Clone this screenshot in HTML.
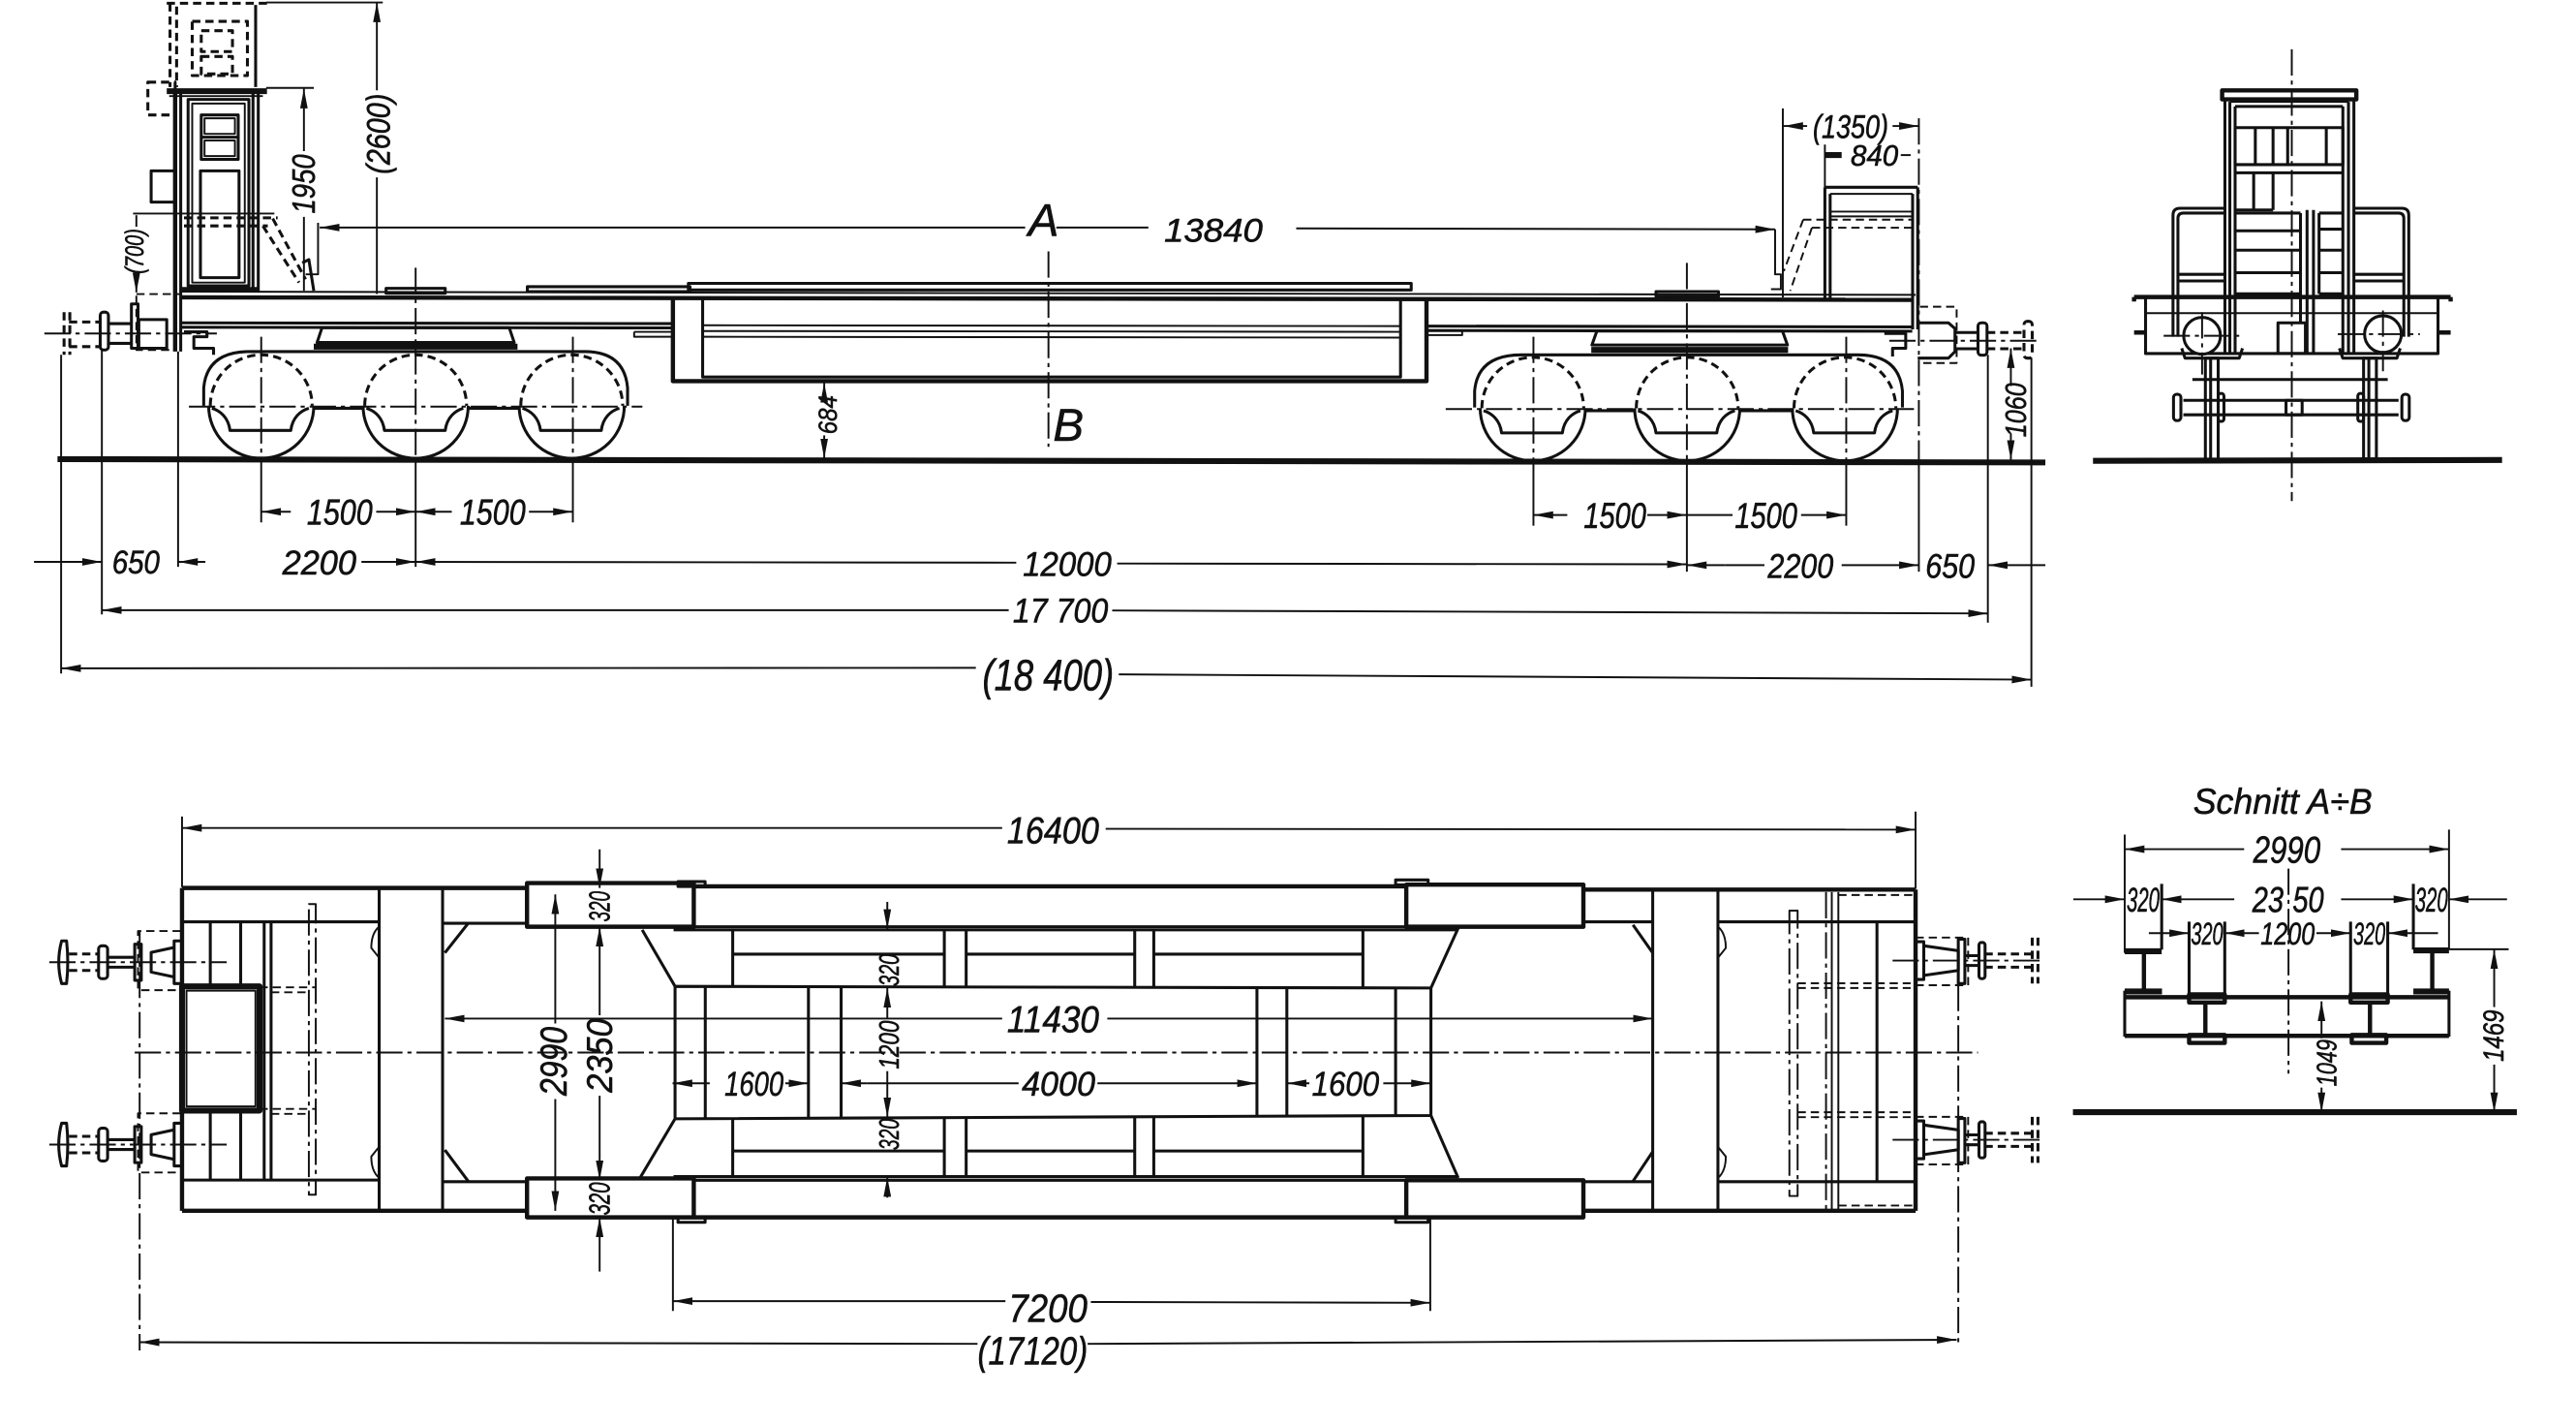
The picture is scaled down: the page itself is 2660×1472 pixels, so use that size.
<!DOCTYPE html>
<html><head><meta charset="utf-8">
<style>
html,body{margin:0;padding:0;background:#fff;}
svg{display:block}
.s{fill:none;stroke:#111;stroke-width:1.8;stroke-linejoin:round}
.n{stroke-width:1.15}
.w{stroke-width:2.6}
.g{stroke-width:3.6}
.d{stroke-dasharray:5 3}
.c{stroke-dasharray:16 3 2.5 3}
text{font-family:"Liberation Sans",sans-serif;font-style:italic;fill:#111;stroke:#111;stroke-width:0.35;text-anchor:middle}
</style></head><body>
<svg width="2660" height="1472" viewBox="0 0 1568 868" preserveAspectRatio="none" xmlns="http://www.w3.org/2000/svg">
<defs>
<marker id="a" viewBox="0 0 12 5" refX="12" refY="2.5" markerWidth="12" markerHeight="5" markerUnits="userSpaceOnUse" orient="auto"><path d="M0,0.2 L12,2.5 L0,4.8 Z" fill="#111"/></marker>
</defs>
<rect width="1568" height="868" fill="#fff"/>
<g class="s">

<!-- ================= SIDE VIEW ================= -->
<path class="g" d="M35,279.5 L1245,281.5"/>

<!-- frame -->
<path class="n" d="M110,177.5 L1166,179.5"/>
<path class="w" d="M110,181 L1164,182.5"/>
<path d="M110,196.5 L410,197 M110,199.2 L410,199.6"/>
<path d="M868,198.5 L1164,199 M868,201.2 L1164,201.6"/>
<path class="n" d="M428,198 L852,198.5 M428,201.5 L852,202 M428,205 L852,205.5"/>
<path class="n" d="M386,202 L410,202 M386,202 L386,205 L410,205 M868,204 L890,204 L890,201"/>
<rect x="235" y="175.5" width="36" height="3"/>
<rect x="321" y="174.5" width="99" height="3"/>
<rect x="419" y="172.5" width="440" height="4"/>
<rect x="1008" y="177.5" width="38" height="3"/>
<!-- well -->
<path class="w" d="M409.6,182.5 L409.6,232 L868.3,232 L868.3,182.5"/>
<path d="M427.7,182.5 L427.7,229.5 L852.5,229.5 L852.5,182.5"/>

<!-- left cab -->
<path class="w" d="M106.6,57 L106.6,214"/>
<path d="M110,57 L110,214"/>
<path d="M154,57 L154,178 M157.2,57 L157.2,178"/>
<path class="g" d="M101.5,55.5 L162.5,55.5"/>
<path class="n" d="M103,58.5 L160,58.5"/>
<rect x="114.5" y="60.5" width="37" height="113.5"/>
<rect class="n" x="117" y="63" width="32" height="109"/>
<rect x="122.5" y="70" width="22.5" height="27"/>
<path d="M122.5,83.5 L145,83.5"/>
<rect class="n" x="124.5" y="72" width="18.5" height="9.5"/>
<rect class="n" x="124.5" y="85.5" width="18.5" height="9.5"/>
<rect x="122" y="104" width="23.5" height="65"/>
<path class="w" d="M110,176 L157,176"/>
<!-- upper dashed cab -->
<path class="d" d="M101.5,2 L164,2"/>
<path class="d" d="M103.5,2 L103.5,53 M107.5,4 L107.5,53"/>
<path d="M155.6,3 L155.6,53"/>
<path class="n" d="M162,1.5 L233,1.5"/>
<rect class="d" x="117" y="13" width="33.6" height="33"/>
<rect class="d" x="122.5" y="18.7" width="19" height="12.7"/>
<rect class="d" x="122.5" y="34.4" width="19" height="10.6"/>
<rect class="d" x="90" y="50" width="16.6" height="20"/>
<rect x="92" y="104" width="14.6" height="19"/>
<!-- handrail dashed -->
<path class="d" d="M112,132.6 L169,132.6 M112,137.5 L163,137.5 M166,133 L186,170 M160,137.5 L182,172"/>
<path d="M184,160 L188,158 L191,177"/>
<!-- (700) -->
<path class="n" d="M81,130 L167,130"/>
<path class="n" d="M83,131 L83,138"/>
<path class="n" d="M83,168 L83,178" marker-end="url(#a)"/>
<path class="d n" d="M83,179 L110,179"/>
<text transform="translate(81.5,153) rotate(-90)" y="5.8" font-size="16" textLength="27.5" lengthAdjust="spacingAndGlyphs">(700)</text>
<!-- 1950 -->
<path class="n" d="M162,53.5 L191,53.5"/>
<path class="n" d="M185,92 L185,54" marker-end="url(#a)"/>
<path class="n" d="M185,132 L185,177"/>
<text transform="translate(184.5,112) rotate(-90)" y="7" font-size="19.5" textLength="36" lengthAdjust="spacingAndGlyphs">1950</text>
<!-- (2600) -->
<path class="n" d="M229.4,55 L229.4,1.5" marker-end="url(#a)"/>
<path class="n" d="M229.4,108 L229.4,179"/>
<text transform="translate(230,81.5) rotate(-90)" y="7.2" font-size="20" textLength="49" lengthAdjust="spacingAndGlyphs">(2600)</text>

<!-- 13840 -->
<path class="n" d="M624,138.5 L194.6,138.5" marker-end="url(#a)"/>
<path class="n" d="M643,138.5 L699,138.5"/>
<path class="n" d="M789,139 L1080.5,139.6" marker-end="url(#a)"/>
<path class="n" d="M193.6,135.6 L193.6,167 L186,167"/>
<path class="n" d="M1080.5,139.6 L1080.5,167 L1084,167 L1084,176 L1078,176"/>
<text x="738.6" y="147.2" font-size="20" textLength="60" lengthAdjust="spacingAndGlyphs">13840</text>
<text x="635.2" y="143.6" font-size="28">A</text>
<text x="650.3" y="268.4" font-size="28">B</text>
<path class="c n" d="M638.2,153 L638.2,272"/>

<!-- 684 -->
<path class="n" d="M501.7,241 L501.7,233" marker-end="url(#a)"/>
<path class="n" d="M501.7,265 L501.7,279" marker-end="url(#a)"/>
<text transform="translate(503.6,252.5) rotate(-90)" y="5.8" font-size="16" textLength="23.6" lengthAdjust="spacingAndGlyphs">684</text>

<!-- left bogie -->
<path d="M196,199.5 L310,199.5 L313,208.5 L193,208.5 Z"/>
<path class="g" d="M191,211 L315,211"/>
<path d="M124,247 L124,236 Q126,214 152,214 L356,214 Q380,214 382,236 L382,247"/>
<path d="M191,248.5 L221,248.5 M285,248.5 L316,248.5"/>
<path d="M127,247 A32,32 0 0 0 191,247"/>
<path class="d" d="M128,247 A31,31 0 0 1 190,247"/>
<path d="M129,248.5 C134,250 139,254 140,262 L177,262 C178,254 183,250 188,248.5"/>
<path d="M221,247 A32,32 0 0 0 285,247"/>
<path class="d" d="M222,247 A31,31 0 0 1 284,247"/>
<path d="M223,248.5 C228,250 233,254 234,262 L271,262 C272,254 277,250 282,248.5"/>
<path d="M316,247 A32,32 0 0 0 380,247"/>
<path class="d" d="M317,247 A31,31 0 0 1 379,247"/>
<path d="M318,248.5 C323,250 328,254 329,262 L366,262 C367,254 372,250 377,248.5"/>
<path class="c n" d="M115,247.5 L391,247.5"/>
<path class="c n" d="M159,205 L159,279 M253,163 L253,279 M348.7,205 L348.7,279"/>

<!-- right bogie -->
<path d="M972,201.5 L1085,201.5 L1088,210 L969,210 Z"/>
<path class="g" d="M968.6,213 L1088.4,213"/>
<path d="M897.6,248 L897.6,238 Q899.5,216 926,216 L1131,216 Q1156,216 1158,238 L1158,248"/>
<path d="M965,250 L995,250 M1059,250 L1091,250"/>
<path d="M901,248.5 A32,32 0 0 0 965,248.5"/>
<path class="d" d="M902,248.5 A31,31 0 0 1 964,248.5"/>
<path d="M903,250 C908,251.5 913,255.5 914,263.5 L951,263.5 C952,255.5 957,251.5 962,250"/>
<path d="M995,248.5 A32,32 0 0 0 1059,248.5"/>
<path class="d" d="M996,248.5 A31,31 0 0 1 1058,248.5"/>
<path d="M997,250 C1002,251.5 1007,255.5 1008,263.5 L1045,263.5 C1046,255.5 1051,251.5 1056,250"/>
<path d="M1091,248.5 A32,32 0 0 0 1155,248.5"/>
<path class="d" d="M1092,248.5 A31,31 0 0 1 1154,248.5"/>
<path d="M1093,250 C1098,251.5 1103,255.5 1104,263.5 L1141,263.5 C1142,255.5 1147,251.5 1152,250"/>
<path class="c n" d="M880,249 L1165,249"/>
<path class="c n" d="M933.4,205 L933.4,280 M1026.8,160 L1026.8,280 M1123.8,205 L1123.8,280"/>

<!-- left buffer (side) -->
<path class="d n" d="M83,180 L83,213 L106,213"/>
<rect x="80" y="185" width="4" height="27"/>
<rect x="84.5" y="194.5" width="17" height="17.5"/>
<path d="M66,197 L80,197 M66,209 L80,209"/>
<path class="d" d="M42,196 L61,196 M42,211 L61,211"/>
<rect x="61" y="190" width="5" height="23" rx="2"/>
<path class="d" d="M39,190 L39,216 M42.5,190 L42.5,216"/>
<path class="c n" d="M27,203 L132,203"/>
<path d="M112,202 L126,202 L126,205 L118,205 L118,212 L130,212 L130,216"/>

<!-- right cab -->
<path class="n" d="M1085.2,66 L1085.2,181"/>
<path class="c n" d="M1168,72 L1168,281"/>
<path class="n" d="M1100,76.7 L1085.5,76.7" marker-end="url(#a)"/>
<path class="n" d="M1152,76.7 L1168,76.7" marker-end="url(#a)"/>
<text x="1126.5" y="83.9" font-size="20" textLength="46" lengthAdjust="spacingAndGlyphs">(1350)</text>
<path class="g" d="M1111,94.4 L1121,94.4"/>
<path class="n" d="M1157,94.4 L1163,94.4"/>
<text x="1141" y="100.9" font-size="18" textLength="29" lengthAdjust="spacingAndGlyphs">840</text>
<path class="n" d="M1110.8,88 L1110.8,114"/>
<path d="M1110.8,114 L1167.3,114"/>
<path class="n" d="M1114,118 L1164.2,118"/>
<path d="M1110.8,114 L1110.8,181.8 M1114,118 L1114,181.8"/>
<path d="M1164.2,118 L1164.2,200.5 M1167.3,114 L1167.3,200.5"/>
<path class="n" d="M1114,128.8 L1164.2,128.8 M1114,131.7 L1164.2,131.7"/>
<path class="d n" d="M1097.6,133.7 L1164,133.7 M1102.9,138.6 L1164,138.6"/>
<path class="d n" d="M1097.6,133.7 L1085.8,165 M1102.9,138.6 L1089.7,177"/>

<!-- right buffer (side) -->
<path class="d n" d="M1168.6,186.7 L1191,186.7 L1191,221 L1168.6,221"/>
<path d="M1167.3,196.5 L1186,196.5 L1190,200 L1190,214 L1186,218 L1167.3,218"/>
<path d="M1190,202.4 L1204,202.4 M1190,212.3 L1204,212.3"/>
<rect x="1204" y="196.5" width="5.5" height="19.7" rx="2"/>
<path class="d" d="M1209.5,202.4 L1232,202.4 M1209.5,212.3 L1232,212.3"/>
<rect class="d" x="1232" y="195.6" width="5" height="22.4" rx="2"/>
<path class="c n" d="M1150,207.4 L1242,207.4"/>
<path d="M1147,203 L1160,203 L1160,212 L1152,212 L1152,217"/>
<!-- 1060 -->
<path class="n" d="M1224,235 L1224,212" marker-end="url(#a)"/>
<path class="n" d="M1224,264 L1224,280" marker-end="url(#a)"/>
<text transform="translate(1226.6,249.6) rotate(-90)" y="6.5" font-size="18" textLength="33" lengthAdjust="spacingAndGlyphs">1060</text>

<!-- extension lines (side) -->
<path class="n" d="M37.2,216 L37.2,410 M62,213 L62,374 M108.4,214 L108.4,345"/>
<path class="n" d="M159,279 L159,318 M253,279 L253,345 M348.7,279 L348.7,318"/>
<path class="n" d="M933.4,281 L933.4,320 M1026.8,281 L1026.8,348 M1123.8,281 L1123.8,320"/>
<path class="n" d="M1168,281 L1168,348 M1210,216 L1210,379 M1236.5,218 L1236.5,418"/>

<!-- dimension rows (side) -->
<path class="n" d="M177,311.5 L159,311.5" marker-end="url(#a)"/>
<text x="206.8" y="319.4" font-size="22" textLength="40" lengthAdjust="spacingAndGlyphs">1500</text>
<path class="n" d="M229,311.5 L253,311.5" marker-end="url(#a)"/>
<path class="n" d="M275,311.5 L253,311.5" marker-end="url(#a)"/>
<text x="299.9" y="319.4" font-size="22" textLength="40" lengthAdjust="spacingAndGlyphs">1500</text>
<path class="n" d="M322,311.5 L348.7,311.5" marker-end="url(#a)"/>

<path class="n" d="M954,313.5 L933.4,313.5" marker-end="url(#a)"/>
<text x="983" y="321.4" font-size="22" textLength="38" lengthAdjust="spacingAndGlyphs">1500</text>
<path class="n" d="M1002.7,313.5 L1026.8,313.5" marker-end="url(#a)"/>
<path class="n" d="M1026.8,313.5 L1054.6,313.5"/>
<text x="1075" y="321.4" font-size="22" textLength="38" lengthAdjust="spacingAndGlyphs">1500</text>
<path class="n" d="M1096.3,313.5 L1123.8,313.5" marker-end="url(#a)"/>

<path class="n" d="M20.7,342 L62,342" marker-end="url(#a)"/>
<text x="82.7" y="349.2" font-size="20" textLength="29" lengthAdjust="spacingAndGlyphs">650</text>
<path class="n" d="M125,342 L108.4,342" marker-end="url(#a)"/>
<text x="194.4" y="349.6" font-size="21" textLength="45" lengthAdjust="spacingAndGlyphs">2200</text>
<path class="n" d="M220,342 L253,342" marker-end="url(#a)"/>
<path class="n" d="M618.6,342.5 L253,342" marker-end="url(#a)"/>
<text x="649.6" y="350.6" font-size="21" textLength="54" lengthAdjust="spacingAndGlyphs">12000</text>
<path class="n" d="M680,343 L1026.8,343.5" marker-end="url(#a)"/>
<path class="n" d="M1050,344 L1026.8,344" marker-end="url(#a)"/>
<path class="n" d="M1050,344 L1074,344"/>
<text x="1096" y="351.6" font-size="21" textLength="40" lengthAdjust="spacingAndGlyphs">2200</text>
<path class="n" d="M1121,344 L1168,344" marker-end="url(#a)"/>
<text x="1187" y="351.6" font-size="21" textLength="30" lengthAdjust="spacingAndGlyphs">650</text>
<path class="n" d="M1245,344 L1210,344" marker-end="url(#a)"/>

<path class="n" d="M614,371.4 L62,371.4" marker-end="url(#a)"/>
<text x="645.5" y="379" font-size="21" textLength="58" lengthAdjust="spacingAndGlyphs">17 700</text>
<path class="n" d="M677,371.6 L1210,373.4" marker-end="url(#a)"/>

<path class="n" d="M594,406.5 L37.2,406.8" marker-end="url(#a)"/>
<text x="638" y="420" font-size="27" textLength="80" lengthAdjust="spacingAndGlyphs">(18 400)</text>
<path class="n" d="M681,410.5 L1236.5,413.7" marker-end="url(#a)"/>

<!-- ================= END VIEW ================= -->
<path class="g" d="M1274,280.5 L1523,280"/>
<path class="c n" d="M1395,30 L1395,305"/>
<path class="w" d="M1352.6,55 L1434.3,55 L1434.3,60.5 L1352.6,60.5 Z"/>
<path d="M1354.3,60.5 L1354.3,215 M1357.3,62 L1357.3,215 M1360.5,64.8 L1360.5,215"/>
<path d="M1426.1,64.8 L1426.1,215 M1429.5,62 L1429.5,215 M1432.8,60.5 L1432.8,215"/>
<path class="n" d="M1357.3,62 L1429.5,62"/>
<path d="M1360.5,64.8 L1426.1,64.8"/>
<rect x="1360.5" y="77.7" width="65.6" height="22.5"/>
<path d="M1372.8,77.7 L1372.8,100.2 M1383.6,77.7 L1383.6,100.2 M1392.5,77.7 L1392.5,100.2 M1416,77.7 L1416,100.2"/>
<path d="M1360.5,105.2 L1426.1,105.2 M1360.5,127.8 L1383.6,127.8 M1371.8,105.2 L1371.8,127.8 M1383.6,105.2 L1383.6,127.8"/>
<path d="M1360.5,129.7 L1400.3,129.7 M1360.5,140.5 L1400.3,140.5 M1360.5,152.3 L1400.3,152.3 M1360.5,166 L1400.3,166 M1360.5,178.8 L1400.3,178.8"/>
<path d="M1411.6,129.7 L1426.1,129.7 M1411.6,139.5 L1426.1,139.5 M1411.6,152.3 L1426.1,152.3 M1411.6,166 L1426.1,166 M1411.6,178.8 L1426.1,178.8"/>
<path d="M1400.3,129.7 L1400.3,196.5 M1411.6,129.7 L1411.6,178.8"/>
<path d="M1404.3,127.8 L1404.3,215 M1408.2,127.8 L1408.2,215"/>
<path d="M1322.7,205 L1322.7,131 Q1322.7,126.8 1327,126.8 L1354.3,126.8"/>
<path d="M1325.7,205 L1325.7,133 Q1325.7,129.7 1329,129.7 L1354.3,129.7"/>
<path d="M1466.2,205 L1466.2,131 Q1466.2,126.8 1462,126.8 L1432.8,126.8"/>
<path d="M1463.2,205 L1463.2,133 Q1463.2,129.7 1460,129.7 L1432.8,129.7"/>
<path d="M1325.7,167 L1354.3,167 M1325.7,171 L1354.3,171 M1432.8,167 L1463.2,167 M1432.8,171 L1463.2,171"/>
<path class="w" d="M1299,180.8 L1491.7,180.8"/>
<path d="M1306,180.8 L1306,215.2 L1484,215.2 L1484,180.8"/>
<path class="n" d="M1306,190.6 L1484,190.6"/>
<path class="w" d="M1299,202.4 L1306,202.4 M1484,202.4 L1491.7,202.4 M1299,180.8 L1299,183.5 M1491.7,180.8 L1491.7,183.5"/>
<circle cx="1340.4" cy="204.4" r="11.2" fill="#fff"/>
<circle cx="1450.5" cy="203.4" r="11.2" fill="#fff"/>
<path class="c n" d="M1317,204.4 L1364,204.4 M1340.4,190 L1340.4,228 M1423,203.4 L1473,203.4 M1450.5,189 L1450.5,226"/>
<path d="M1328,212 L1330,218 L1363,218 L1365,212 M1424,212 L1426,218 L1459,218 L1461,212"/>
<rect x="1386.6" y="196.5" width="16.7" height="18.7"/>
<rect x="1342.4" y="218" width="7.8" height="62"/>
<path d="M1345.6,218 L1345.6,280"/>
<rect x="1438.7" y="218" width="7.8" height="62"/>
<path d="M1441.9,218 L1441.9,280"/>
<path d="M1334.5,231 L1453.4,231"/>
<path d="M1329,243.7 L1460,243.7 M1329,252.5 L1460,252.5"/>
<rect x="1323" y="240" width="4.5" height="16" rx="2"/>
<rect x="1462" y="240" width="4.5" height="16" rx="2"/>
<rect x="1350.2" y="239.5" width="3.5" height="17" rx="1.5"/>
<rect x="1435.2" y="239.5" width="3.5" height="17" rx="1.5"/>
<rect x="1391.5" y="243.7" width="9.8" height="8.8"/>

<!-- ================= PLAN VIEW ================= -->
<path class="w" d="M110.8,540.5 L320.8,540.5"/>
<rect class="w" x="320.8" y="537.5" width="101.5" height="26.6"/>
<path class="w" d="M422.3,539.5 L856,539.5"/>
<rect class="w" x="856" y="538.5" width="107.8" height="25.6"/>
<path class="w" d="M963.8,541.5 L1166,541.5"/>
<path d="M110.8,561.1 L230.8,561.1 M269.4,562 L320.8,562 M422.3,564.1 L856,564.1 M963.8,561.1 L1006,561.1 M1045.7,561.1 L1166,561.1"/>
<path d="M410,566 L887.6,566"/>
<rect x="412.7" y="536.6" width="16.5" height="3"/>
<rect x="849.5" y="535.6" width="19.8" height="3"/>
<path class="w" d="M110.8,737 L320.8,737"/>
<rect class="w" x="320.8" y="717.3" width="101.5" height="23.7"/>
<path class="w" d="M422.3,741 L856,741"/>
<rect class="w" x="856" y="718.4" width="107.8" height="22.6"/>
<path class="w" d="M963.8,737 L1166,737"/>
<path d="M110.8,718.3 L230.8,718.3 M269.4,719.3 L320.8,719.3 M422.3,718.4 L856,718.4 M963.8,719.3 L1006,719.3 M1045.7,719.3 L1166,719.3"/>
<path d="M410,716.2 L887.6,716.2"/>
<rect x="412.7" y="741" width="16.5" height="3"/>
<rect x="849.5" y="741" width="19.8" height="3"/>
<path class="w" d="M110.8,540.5 L110.8,737 M1166,541.5 L1166,737"/>
<path d="M230.8,540.5 L230.8,737 M269.4,540.5 L269.4,737 M1006,541.5 L1006,737 M1045.7,541.5 L1045.7,737"/>
<path d="M270.8,580 L285,562 M270.8,700 L285,719 M994,563 L1006,580 M994,719 L1006,701"/>
<path class="n" d="M230.8,564 Q226,568 226,577 L230.8,583 M230.8,717 Q226,713 226,704 L230.8,698"/>
<path class="n" d="M1045.7,564 Q1050.5,568 1050.5,577 L1045.7,583 M1045.7,717 Q1050.5,713 1050.5,704 L1045.7,698"/>
<path d="M390.9,566 L410.9,600.4 M389.4,717.3 L410.9,681 M887.6,565 L871,601.4 M887.6,717 L871,679"/>
<path d="M410.9,600.4 L871,601.4 M410.9,681 L871,679 M410.9,600.4 L410.9,681 M871,601.4 L871,679"/>
<path d="M429.3,600.6 L429.3,680.8 M492.1,600.8 L492.1,680.7 M512,600.8 L512,680.6 M765.1,601 L765.1,679.6 M783.3,601 L783.3,679.6 M849.5,601.3 L849.5,679.2"/>
<path d="M446,566 L446,600.6 M574.8,566 L574.8,600.8 M588.1,566 L588.1,600.9 M690.7,566 L690.7,601 M702.3,566 L702.3,601 M829.6,566 L829.6,601.2"/>
<path d="M446,580.8 L574.8,580.8 M588.1,580.8 L690.7,580.8 M702.3,580.8 L829.6,580.8"/>
<path d="M446,680.7 L446,716.2 M574.8,680.5 L574.8,716.2 M588.1,680.5 L588.1,716.2 M690.7,680 L690.7,716.2 M702.3,680 L702.3,716.2 M829.6,679.4 L829.6,716.2"/>
<path d="M446,700.6 L574.8,700.6 M588.1,700.6 L690.7,700.6 M702.3,700.6 L829.6,700.6"/>
<path d="M128,561.1 L128,600.4 M146.5,561.1 L146.5,600.4 M128,676 L128,718.3 M146.5,676 L146.5,718.3"/>
<path d="M160.8,561.1 L160.8,718.3 M165,561.1 L165,718.3"/>
<rect class="g" x="110.8" y="600.4" width="47.2" height="75.6"/>
<rect class="n" x="113.5" y="603" width="42" height="70.5"/>
<path class="d n" d="M158,601 L192,601 M165,604 L188,604 M158,675 L192,675 M165,678 L188,678"/>
<rect class="c n" x="188" y="550.3" width="4.2" height="176.9"/>
<path d="M1142.5,561.1 L1142.5,719.3"/>
<rect class="c n" x="1089.2" y="554.3" width="5" height="173.7"/>
<path class="c n" d="M1111.5,543 L1111.5,736"/>
<path class="n" d="M1115,543 L1115,736 M1119,543 L1119,736"/>
<path class="d n" d="M1119,544.8 L1164,544.8 M1119,733.8 L1164,733.8"/>
<path class="d n" d="M1094.2,598.5 L1163,598.5 M1094.2,601.4 L1163,601.4 M1094.2,677 L1163,677 M1094.2,680 L1163,680"/>
<g>
<rect x="106" y="572.7" width="4.8" height="26"/>
<path d="M106,576.7 L92,579.7 L92,591.7 L106,594.7"/>
<path class="d n" d="M110,566.7 L84,566.7 L84,602.7 L110,602.7"/>
<rect x="82" y="574.7" width="4" height="22"/>
<path d="M66,582.7 L82,582.7 M66,588.7 L82,588.7"/>
<path class="d" d="M42,580.7 L60,580.7 M42,590.7 L60,590.7"/>
<rect x="60" y="575.7" width="5.5" height="20" rx="2"/>
<path d="M37.5,572.7 Q34,585.7 37.5,598.7 L40.5,598.7 Q42,585.7 40.5,572.7 Z"/>
<path class="c n" d="M30,585.7 L138,585.7"/>
</g>
<g>
<rect x="106" y="683.7" width="4.8" height="26"/>
<path d="M106,687.7 L92,690.7 L92,702.7 L106,705.7"/>
<path class="d n" d="M110,677.7 L84,677.7 L84,713.7 L110,713.7"/>
<rect x="82" y="685.7" width="4" height="22"/>
<path d="M66,693.7 L82,693.7 M66,699.7 L82,699.7"/>
<path class="d" d="M42,691.7 L60,691.7 M42,701.7 L60,701.7"/>
<rect x="60" y="686.7" width="5.5" height="20" rx="2"/>
<path d="M37.5,683.7 Q34,696.7 37.5,709.7 L40.5,709.7 Q42,696.7 40.5,683.7 Z"/>
<path class="c n" d="M30,696.7 L138,696.7"/>
</g>
<g>
<rect x="1166" y="573.2" width="5" height="23"/>
<path d="M1171,575.7 L1192,578.7 L1192,590.7 L1171,593.7"/>
<rect x="1192" y="571.7" width="4" height="27"/>
<path d="M1196,581.7 L1205,581.7 M1196,587.7 L1205,587.7"/>
<rect x="1204.6" y="573.7" width="3.7" height="22" rx="1.5"/>
<path class="d" d="M1208,580.7 L1237,580.7 M1208,588.7 L1237,588.7"/>
<path class="d" d="M1237,570.7 L1237,598.7 M1240.5,570.7 L1240.5,598.7"/>
<path class="d n" d="M1166,570.7 L1198,570.7 L1198,599.7 L1166,599.7"/>
<path class="c n" d="M1152,584.7 L1244,584.7"/>
</g>
<g>
<rect x="1166" y="682.3" width="5" height="23"/>
<path d="M1171,684.8 L1192,687.8 L1192,699.8 L1171,702.8"/>
<rect x="1192" y="680.8" width="4" height="27"/>
<path d="M1196,690.8 L1205,690.8 M1196,696.8 L1205,696.8"/>
<rect x="1204.6" y="682.8" width="3.7" height="22" rx="1.5"/>
<path class="d" d="M1208,689.8 L1237,689.8 M1208,697.8 L1237,697.8"/>
<path class="d" d="M1237,679.8 L1237,707.8 M1240.5,679.8 L1240.5,707.8"/>
<path class="d n" d="M1166,679.8 L1198,679.8 L1198,708.8 L1166,708.8"/>
<path class="c n" d="M1152,693.8 L1244,693.8"/>
</g>
<path class="c n" d="M82,640.7 L1204,640.7"/>
<path class="c n" d="M85,567 L85,822 M1192,575 L1192,820"/>
<path class="n" d="M110.8,497 L110.8,540 M1166,494 L1166,541"/>
<path class="n" d="M409.6,742 L409.6,798 M870.6,742 L870.6,798"/>
<path class="n" d="M610,504 L110.8,504" marker-end="url(#a)"/>
<path class="n" d="M673,504.5 L1166,505" marker-end="url(#a)"/>
<text x="641" y="513.3" font-size="23" textLength="56" lengthAdjust="spacingAndGlyphs">16400</text>
<path class="n" d="M610,620 L270.8,620" marker-end="url(#a)"/>
<path class="n" d="M674,620 L1006,620" marker-end="url(#a)"/>
<text x="641" y="628.3" font-size="23" textLength="56" lengthAdjust="spacingAndGlyphs">11430</text>
<path class="n" d="M338,623 L338,544.4" marker-end="url(#a)"/>
<path class="n" d="M338,669 L338,737" marker-end="url(#a)"/>
<text transform="translate(336.6,646) rotate(-90)" y="8.3" font-size="23" textLength="42" lengthAdjust="spacingAndGlyphs">2990</text>
<path class="n" d="M365,517 L365,540.5" marker-end="url(#a)"/>
<text transform="translate(364.6,551.8) rotate(-90)" y="6.5" font-size="18" textLength="18.6" lengthAdjust="spacingAndGlyphs">320</text>
<path class="n" d="M365,618 L365,564.1" marker-end="url(#a)"/>
<text transform="translate(364.5,642.5) rotate(-90)" y="7.9" font-size="22" textLength="45" lengthAdjust="spacingAndGlyphs">2350</text>
<path class="n" d="M365,667 L365,718.3" marker-end="url(#a)"/>
<text transform="translate(364.6,729.7) rotate(-90)" y="6.5" font-size="18" textLength="20" lengthAdjust="spacingAndGlyphs">320</text>
<path class="n" d="M365,774 L365,741" marker-end="url(#a)"/>
<path class="n" d="M540.1,549 L540.1,565.5" marker-end="url(#a)"/>
<text transform="translate(541,590.5) rotate(-90)" y="6.1" font-size="17" textLength="19.6" lengthAdjust="spacingAndGlyphs">320</text>
<path class="n" d="M540.1,620 L540.1,601.4" marker-end="url(#a)"/>
<text transform="translate(541,636) rotate(-90)" y="6.1" font-size="17" textLength="29.5" lengthAdjust="spacingAndGlyphs">1200</text>
<path class="n" d="M540.1,652 L540.1,680" marker-end="url(#a)"/>
<text transform="translate(541,690.5) rotate(-90)" y="6.1" font-size="17" textLength="19" lengthAdjust="spacingAndGlyphs">320</text>
<path class="n" d="M540.1,729 L540.1,716.5" marker-end="url(#a)"/>
<path class="n" d="M432,659.4 L409.4,659.4" marker-end="url(#a)"/>
<text x="459" y="667" font-size="21" textLength="36" lengthAdjust="spacingAndGlyphs">1600</text>
<path class="n" d="M478,659.4 L492.1,659.4" marker-end="url(#a)"/>
<path class="n" d="M528,659.4 L512,659.4" marker-end="url(#a)"/>
<path class="n" d="M528,659.4 L620,659.4"/>
<text x="644.3" y="667" font-size="21" textLength="44.7" lengthAdjust="spacingAndGlyphs">4000</text>
<path class="n" d="M668,659.4 L765.1,659.4" marker-end="url(#a)"/>
<path class="n" d="M797,659.4 L783.3,659.4" marker-end="url(#a)"/>
<text x="819" y="667" font-size="21" textLength="41" lengthAdjust="spacingAndGlyphs">1600</text>
<path class="n" d="M842,659.4 L871,659.4" marker-end="url(#a)"/>
<path class="n" d="M612,792 L409.6,792" marker-end="url(#a)"/>
<path class="n" d="M664,792.5 L870.6,793" marker-end="url(#a)"/>
<text x="637.9" y="804.6" font-size="24" textLength="48" lengthAdjust="spacingAndGlyphs">7200</text>
<path class="n" d="M595,818 L85,817" marker-end="url(#a)"/>
<path class="n" d="M662,818 L1191,815.5" marker-end="url(#a)"/>
<text x="628.6" y="830.6" font-size="24" textLength="67" lengthAdjust="spacingAndGlyphs">(17120)</text>

<!-- ================= SECTION A-B ================= -->
<text x="1389.5" y="495.3" font-size="22" textLength="109" lengthAdjust="spacingAndGlyphs">Schnitt A÷B</text>
<path class="n" d="M1293.3,508 L1293.3,580 M1490.7,505 L1490.7,578"/>
<path class="n" d="M1366,516.9 L1293.3,516.9" marker-end="url(#a)"/>
<path class="n" d="M1425,516.9 L1490.7,516.9" marker-end="url(#a)"/>
<text x="1392" y="525.2" font-size="23" textLength="41" lengthAdjust="spacingAndGlyphs">2990</text>
<path class="n" d="M1262,547.4 L1293.3,547.4" marker-end="url(#a)"/>
<text x="1304.5" y="555" font-size="21" textLength="20" lengthAdjust="spacingAndGlyphs">320</text>
<path class="n" d="M1360,547.4 L1315.8,547.4" marker-end="url(#a)"/>
<text x="1380.5" y="555.3" font-size="22" textLength="19" lengthAdjust="spacingAndGlyphs">23</text>
<text x="1405" y="555.3" font-size="22" textLength="19" lengthAdjust="spacingAndGlyphs">50</text>
<path class="n" d="M1425,547.4 L1469,547.4" marker-end="url(#a)"/>
<text x="1480" y="555" font-size="21" textLength="20" lengthAdjust="spacingAndGlyphs">320</text>
<path class="n" d="M1526,547.4 L1490.7,547.4" marker-end="url(#a)"/>
<path d="M1315.8,538 L1315.8,578 M1469,538 L1469,578"/>
<path class="g" d="M1293.3,579 L1315.8,579 M1469,578.5 L1490.7,578.5"/>
<path class="w" d="M1305,580 L1305,603 M1480.5,580 L1480.5,603"/>
<path class="g" d="M1293.3,603.5 L1316,603.5 M1469,603.5 L1490.7,603.5"/>
<path d="M1332.5,561 L1332.5,607 M1354.2,561 L1354.2,607 M1430.8,561 L1430.8,607 M1453.4,561 L1453.4,607"/>
<path class="n" d="M1308,568 L1332.5,568" marker-end="url(#a)"/>
<text x="1343.4" y="574.8" font-size="19" textLength="19.5" lengthAdjust="spacingAndGlyphs">320</text>
<path class="n" d="M1375,568 L1354.2,568" marker-end="url(#a)"/>
<text x="1392.5" y="574.8" font-size="19" textLength="33" lengthAdjust="spacingAndGlyphs">1200</text>
<path class="n" d="M1410,568 L1430.8,568" marker-end="url(#a)"/>
<text x="1442.2" y="574.8" font-size="19" textLength="19.5" lengthAdjust="spacingAndGlyphs">320</text>
<path class="n" d="M1484,568 L1453.4,568" marker-end="url(#a)"/>
<path class="w" d="M1293.3,607 L1490.7,607"/>
<path class="w" d="M1293.3,630.5 L1490.7,630.5"/>
<path d="M1293.3,603 L1293.3,631 M1490.7,603 L1490.7,631"/>
<rect class="w" x="1332.5" y="605.3" width="21.7" height="4.9"/>
<rect class="w" x="1430.8" y="605.3" width="22.6" height="4.9"/>
<path class="w" d="M1342.4,610 L1342.4,630 M1442.6,610 L1442.6,630"/>
<rect class="w" x="1332.5" y="630" width="21.7" height="4.8"/>
<rect class="w" x="1431.5" y="630" width="21" height="4.8"/>
<path class="c n" d="M1393,528.7 L1393,653.5"/>
<path class="g" d="M1261.8,677 L1532,677"/>
<path class="n" d="M1490.7,577.8 L1527,577.8"/>
<path class="n" d="M1518.2,613 L1518.2,577.8" marker-end="url(#a)"/>
<path class="n" d="M1518.2,648 L1518.2,677" marker-end="url(#a)"/>
<text transform="translate(1517.5,630.5) rotate(-90)" y="6.3" font-size="17.5" textLength="31.5" lengthAdjust="spacingAndGlyphs">1469</text>
<path class="n" d="M1413.1,632 L1413.1,609.5" marker-end="url(#a)"/>
<path class="n" d="M1413.1,662 L1413.1,677" marker-end="url(#a)"/>
<text transform="translate(1416,647) rotate(-90)" y="6.1" font-size="17" textLength="28.5" lengthAdjust="spacingAndGlyphs">1049</text>

</g>
</svg>
</body></html>
